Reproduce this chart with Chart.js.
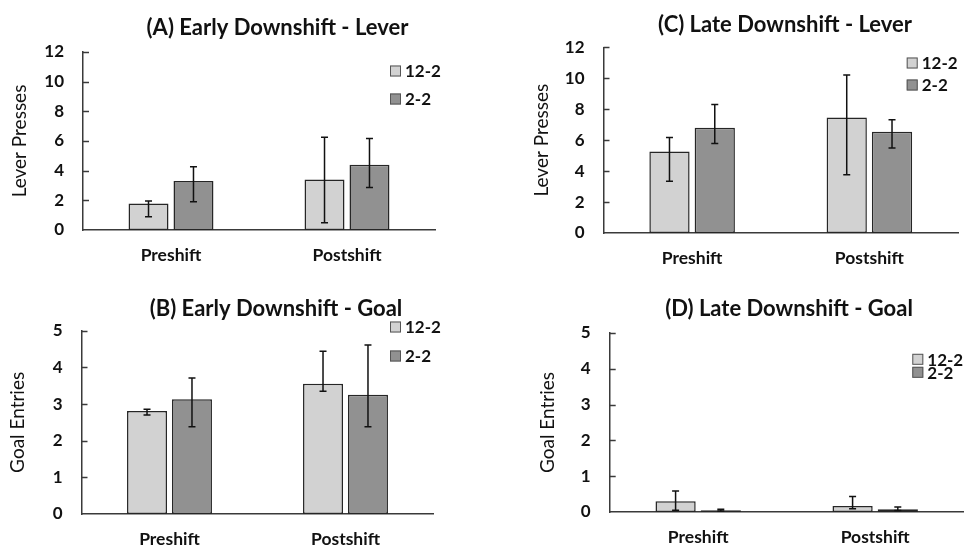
<!DOCTYPE html>
<html><head><meta charset="utf-8">
<script src="https://cdn.jsdelivr.net/npm/chart.js@4.4.1/dist/chart.umd.min.js"></script>
<style>
html,body{margin:0;padding:0;background:#fff;width:964px;height:547px;overflow:hidden;position:relative;}
canvas{position:absolute;}
</style></head><body>
<canvas id="cA"></canvas><canvas id="cB"></canvas><canvas id="cC"></canvas><canvas id="cD"></canvas>
<script>
// ---------- DATA ----------
const categories = ['Preshift', 'Postshift'];
const seriesLabels = ['12-2', '2-2'];
const leverTicks = { max: 12, step: 2 };
const goalTicks = { max: 5, step: 1 };

// (A) Early Downshift - Lever
const aMean122 = [1.79, 3.41];
const aMean22  = [3.30, 4.40];
const aHi122 = [1.95, 6.26], aLo122 = [0.90, 0.49];
const aHi22  = [4.26, 6.17], aLo22  = [1.91, 2.87];

// (B) Early Downshift - Goal
const bMean122 = [2.81, 3.55];
const bMean22  = [3.13, 3.25];
const bHi122 = [2.86, 4.44], bLo122 = [2.70, 3.35];
const bHi22  = [3.71, 4.61], bLo22  = [2.38, 2.38];

// (C) Late Downshift - Lever
const cMean122 = [5.27, 7.47];
const cMean22  = [6.80, 6.54];
const cHi122 = [6.17, 10.21], cLo122 = [3.35, 3.76];
const cHi22  = [8.31, 7.32],  cLo22  = [5.78, 5.50];

// (D) Late Downshift - Goal
const dMean122 = [0.30, 0.17];
const dMean22  = [0.05, 0.08];
const dHi122 = [0.59, 0.43], dLo122 = [0.05, 0.09];
const dHi22  = [0.08, 0.14], dLo22  = [0.03, 0.04];

// ---------- STYLE ----------
const FONT = 'Lato, "Open Sans", sans-serif';
const LIGHT = '#d2d2d2', DARK = '#919191', EDGE = '#262626', AXIS = '#3a3a3a';

const errorBars = {
  id: 'errorBars',
  afterDatasetsDraw(chart) {
    const ctx = chart.ctx, ys = chart.scales.y;
    ctx.save();
    ctx.strokeStyle = '#111'; ctx.lineWidth = 1.5;
    chart.data.datasets.forEach((ds, di) => {
      const meta = chart.getDatasetMeta(di);
      meta.data.forEach((bar, i) => {
        const yh = ys.getPixelForValue(ds.errHi[i]);
        const yl = ys.getPixelForValue(ds.errLo[i]);
        const x = bar.x;
        ctx.beginPath();
        ctx.moveTo(x, yh); ctx.lineTo(x, yl);
        ctx.moveTo(x - 3.5, yh); ctx.lineTo(x + 3.5, yh);
        ctx.moveTo(x - 3.5, yl); ctx.lineTo(x + 3.5, yl);
        ctx.stroke();
      });
    });
    ctx.restore();
  }
};

const innerTicks = {
  id: 'innerTicks',
  afterDraw(chart) {
    const ctx = chart.ctx, ys = chart.scales.y, left = chart.chartArea.left;
    ctx.save();
    ctx.strokeStyle = AXIS; ctx.lineWidth = 1.5;
    ys.ticks.forEach(t => {
      if (t.value === 0) return;
      const y = Math.round(ys.getPixelForValue(t.value)) + 0.5;
      ctx.beginPath(); ctx.moveTo(left, y); ctx.lineTo(left + 6, y); ctx.stroke();
    });
    ctx.restore();
  }
};

const boxLegend = {
  id: 'boxLegend',
  afterDraw(chart, args, opts) {
    const ctx = chart.ctx;
    ctx.save();
    ctx.font = 'bold 17px ' + FONT;
    ctx.textBaseline = 'middle';
    ctx.textAlign = 'left';
    chart.data.datasets.forEach((ds, i) => {
      const y = opts.ys[i];
      ctx.fillStyle = ds.backgroundColor;
      ctx.fillRect(opts.x, y - 5.5, 11, 11);
      ctx.strokeStyle = '#555'; ctx.lineWidth = 1;
      ctx.strokeRect(opts.x + 0.5, y - 5, 10, 10);
      ctx.fillStyle = '#111';
      ctx.fillText(ds.label, opts.x + 15, y + 1);
    });
    ctx.restore();
  }
};

function makePanel(p) {
  const cv = document.getElementById(p.id);
  cv.width = p.box.width; cv.height = p.box.height;
  cv.style.left = p.box.left + 'px'; cv.style.top = p.box.top + 'px';
  cv.style.width = p.box.width + 'px'; cv.style.height = p.box.height + 'px';
  new Chart(cv, {
    type: 'bar',
    data: {
      labels: categories,
      datasets: [
        { label: seriesLabels[0], data: p.m1, errHi: p.hi1, errLo: p.lo1,
          backgroundColor: LIGHT, borderColor: EDGE, borderWidth: 1.5, borderSkipped: false },
        { label: seriesLabels[1], data: p.m2, errHi: p.hi2, errLo: p.lo2,
          backgroundColor: DARK, borderColor: EDGE, borderWidth: 1.5, borderSkipped: false }
      ]
    },
    options: {
      responsive: false, animation: false, devicePixelRatio: 1,
      layout: { padding: 0 },
      datasets: { bar: { categoryPercentage: 0.511, barPercentage: 0.889 } },
      plugins: {
        legend: { display: false },
        tooltip: { enabled: false },
        title: { display: true, text: p.title, color: '#111',
          font: { family: FONT, size: 22, weight: 'bold', lineHeight: 1.2 },
          padding: { top: 0, bottom: p.titlePadBottom } },
        boxLegend: p.legend
      },
      scales: {
        x: {
          grid: { display: false, drawTicks: false },
          border: { display: true, color: AXIS, width: 1.5 },
          ticks: { color: '#111', padding: 15, font: { family: FONT, size: 17.5, weight: 'bold' } },
          afterFit(s) { s.height = 40; }
        },
        y: {
          min: 0, max: p.ticks.max,
          grid: { display: false, drawTicks: false },
          border: { display: true, color: AXIS, width: 1.5 },
          ticks: { stepSize: p.ticks.step, color: '#111', padding: 19,
            font: { family: FONT, size: 17, weight: 'bold' } },
          title: { display: true, text: p.yTitle, color: '#111',
            font: { family: FONT, size: 19, lineHeight: 1.2 },
            padding: { top: p.yTitlePad, bottom: 0 } },
          afterFit(s) { s.width = p.wY; }
        },
        spacer: {
          type: 'linear', position: 'right', display: true,
          grid: { display: false, drawTicks: false },
          border: { display: false },
          ticks: { display: false },
          afterFit(s) { s.width = p.spacer; }
        }
      }
    },
    plugins: [errorBars, innerTicks, boxLegend]
  });
}

makePanel({ id: 'cA', title: '(A) Early Downshift - Lever', yTitle: 'Lever Presses', ticks: leverTicks,
  m1: aMean122, m2: aMean22, hi1: aHi122, lo1: aLo122, hi2: aHi22, lo2: aLo22,
  box: { left: 0, top: 15, width: 555, height: 255 }, wY: 83, spacer: 120, titlePadBottom: 10.6, yTitlePad: 8.1,
  legend: { x: 390, ys: [56, 84] } });

makePanel({ id: 'cB', title: '(B) Early Downshift - Goal', yTitle: 'Goal Entries', ticks: goalTicks,
  m1: bMean122, m2: bMean22, hi1: bHi122, lo1: bLo122, hi2: bHi22, lo2: bLo22,
  box: { left: 0, top: 296, width: 552, height: 258 }, wY: 81.5, spacer: 118.5, titlePadBottom: 8.3, yTitlePad: 6.9,
  legend: { x: 390, ys: [31, 60] } });

makePanel({ id: 'cC', title: '(C) Late Downshift - Lever', yTitle: 'Lever Presses', ticks: leverTicks,
  m1: cMean122, m2: cMean22, hi1: cHi122, lo1: cLo122, hi2: cHi22, lo2: cLo22,
  box: { left: 480, top: 12, width: 610, height: 261 }, wY: 123.5, spacer: 132, titlePadBottom: 8.9, yTitlePad: 50.3,
  legend: { x: 426.7, ys: [51, 73] } });

makePanel({ id: 'cD', title: '(D) Late Downshift - Goal', yTitle: 'Goal Entries', ticks: goalTicks,
  m1: dMean122, m2: dMean22, hi1: dHi122, lo1: dLo122, hi2: dHi22, lo2: dLo22,
  box: { left: 480, top: 296, width: 618, height: 256 }, wY: 129.7, spacer: 134.3, titlePadBottom: 10.6, yTitlePad: 56.9,
  legend: { x: 432.3, ys: [63.3, 76.3] } });
</script>
</body></html>
